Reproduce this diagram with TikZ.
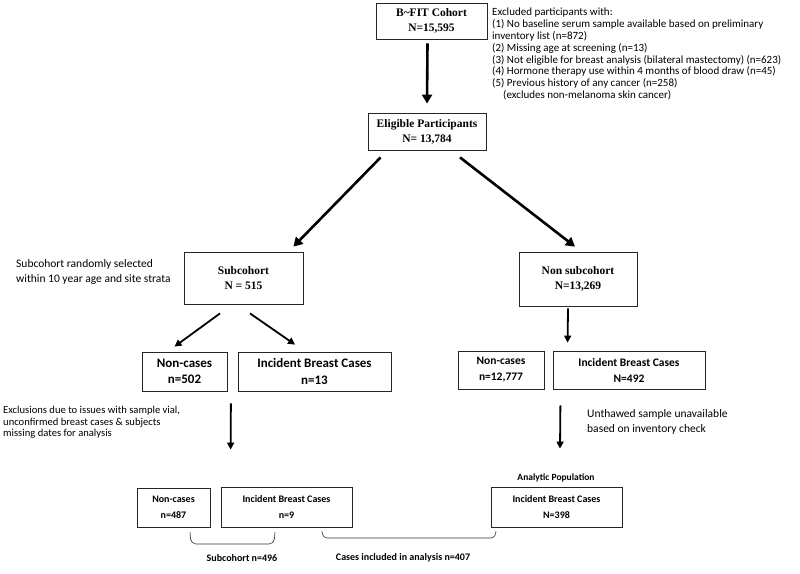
\documentclass[tikz,border=0pt]{standalone}
\usepackage{fontspec}
\setmainfont{Carlito}
\newfontfamily\tnr{Liberation Serif}
\usetikzlibrary{arrows.meta,calc}
\begin{document}
\begin{tikzpicture}[x=1pt,y=-1pt,
  tbox/.style={draw=black!85,line width=0.8pt,inner sep=0pt,align=center,
    font=\tnr\bfseries\fontsize{11.5}{15}\selectfont},
  cbox/.style={draw=black!85,line width=0.8pt,inner sep=0pt,align=center,
    font=\bfseries\fontsize{10}{16}\selectfont},
  bigarr/.style={line width=2.6pt,-{Triangle[length=9pt,width=10pt]}},
  smarr/.style={line width=1.8pt,-{Triangle[length=7pt,width=7pt]}},
  note/.style={inner sep=0pt,align=left,anchor=north west,font=\fontsize{11}{11.8}\selectfont},
  bignote/.style={inner sep=0pt,align=left,anchor=north west,font=\fontsize{11.5}{15.3}\selectfont},
  lbl/.style={inner sep=0pt,font=\bfseries\fontsize{10}{12}\selectfont},
  brace/.style={line width=0.6pt,draw=black!80}]
\useasboundingbox (0,0) rectangle (800,573);
\fill[white] (0,0) rectangle (800,573);

\node[tbox,minimum width=111pt,minimum height=36pt] (bfit) at (431.5,21) {B\textasciitilde FIT Cohort\\N=15,595};
\node[tbox,minimum width=118pt,minimum height=37pt] (elig) at (427,131.5) {Eligible Participants\\N= 13,784};
\node[tbox,minimum width=119pt,minimum height=52pt] (sub) at (243.5,278) {Subcohort\\N = 515};
\node[tbox,minimum width=118pt,minimum height=54pt] (nonsub) at (578,279) {Non subcohort\\N=13,269};

\node[cbox,font=\bfseries\fontsize{13}{16.5}\selectfont,minimum width=85pt,minimum height=39pt] (nc1) at (184.5,371.5) {Non-cases\\n=502};
\node[cbox,font=\bfseries\fontsize{13}{16.5}\selectfont,minimum width=153pt,minimum height=39pt] (ic1) at (314.5,371.5) {Incident Breast Cases\\n=13};
\node[cbox,font=\bfseries\fontsize{11.5}{16}\selectfont,minimum width=86pt,minimum height=38pt] (nc2) at (501,370) {Non-cases\\n=12,777};
\node[cbox,font=\bfseries\fontsize{11.5}{16}\selectfont,minimum width=152pt,minimum height=38pt] (ic2) at (629,370) {Incident Breast Cases\\N=492};

\node[cbox,minimum width=73pt,minimum height=39pt] (nc3) at (173.5,507.5) {Non-cases\\n=487};
\node[cbox,minimum width=131pt,minimum height=40pt] (ic3) at (286.5,507) {Incident Breast Cases\\n=9};
\node[cbox,minimum width=131pt,minimum height=40pt] (ap) at (556.5,507) {Incident Breast Cases\\N=398};

\node[note] (excl) at (492,8) {Excluded participants with:\\
(1) No baseline serum sample available based on preliminary\\
inventory list (n=872)\\
(2) Missing age at screening (n=13)\\
(3) Not eligible for breast analysis (bilateral mastectomy) (n=623)\\
(4) Hormone therapy use within 4 months of blood draw (n=45)\\
(5) Previous history of any cancer (n=258)\\
\hspace*{11pt}(excludes non-melanoma skin cancer)};

\node[bignote] (subnote) at (16,259) {Subcohort randomly selected\\within 10 year age and site strata};
\node[note,font=\fontsize{10.6}{11.6}\selectfont] (exnote) at (3,406) {Exclusions due to issues with sample vial,\\unconfirmed breast cases \& subjects\\missing dates for analysis};
\node[bignote] (unnote) at (587,409) {Unthawed sample unavailable\\based on inventory check};

\node[lbl,font=\bfseries\fontsize{9.5}{12}\selectfont] (aplbl) at (556,478) {Analytic Population};
\node[lbl] (sublbl) at (242,558) {Subcohort n=496};
\node[lbl] (caselbl) at (403,558) {Cases included in analysis n=407};

\draw[bigarr] ($(bfit.south)+(-4,4)$) -- ($(elig.north)+(0,-9)$);
\draw[bigarr] ($(elig.south west)+(13,7)$) -- ($(sub.north east)+(-10,-5)$);
\draw[bigarr] ($(elig.south)+(33,7)$) -- ($(nonsub.north)+(-3,-5)$);
\draw[smarr] ($(sub.south)+(-23.5,9)$) -- ($(nc1.north)+(-10,-5)$);
\draw[smarr] ($(sub.south)+(6.5,9)$) -- ($(ic1.north)+(-19.5,-7)$);
\draw[smarr] ($(nonsub.south)+(-10,2)$) -- ($(ic2.north west)+(15,-8)$);
\draw[smarr] ($(nc1.south east)+(3.5,12)$) -- ($(ic3.north west)+(10,-37)$);
\draw[smarr] ($(nc2.south east)+(16,16)$) -- ($(ap.north)+(3.5,-38)$);

\draw[brace,rounded corners=5pt] (190,532) -- (191,544) -- (274,544) -- (275,532);
\draw[brace,rounded corners=4pt] (322,531) -- (323,538) -- (495,538) -- (496,531);
\end{tikzpicture}
\end{document}
